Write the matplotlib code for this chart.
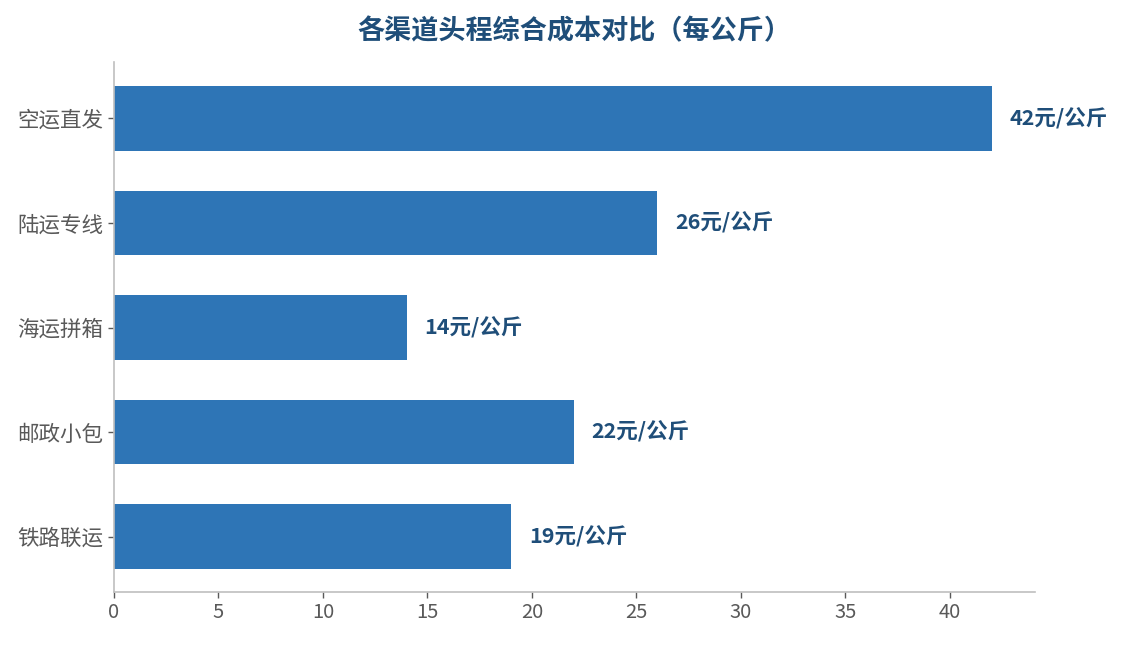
import matplotlib
matplotlib.use("Agg")
import matplotlib.pyplot as plt

plt.rcParams['font.family'] = ['Noto Sans CJK SC', 'DejaVu Sans']

channels = ['空运直发', '陆运专线', '海运拼箱', '邮政小包', '铁路联运']
costs = [42, 26, 14, 22, 19]
x_ticks = [0, 5, 10, 15, 20, 25, 30, 35, 40]

bar_color = '#2E75B6'
label_color = '#1F4E79'
tick_color = '#595959'
spine_color = '#BFBFBF'

fig = plt.figure(figsize=(11.23, 6.45), dpi=100)
ax = fig.add_axes([0.1015, 0.0822, 0.82, 0.8217])

pos = list(range(len(channels)))
bars = ax.barh(pos, costs, height=0.62, color=bar_color)
ax.set_ylim(4.53, -0.54)
ax.set_xlim(0, 44.07)

for b, v in zip(bars, costs):
    ax.annotate(f'{v}元/公斤', xy=(b.get_width(), b.get_y() + b.get_height() / 2),
                xytext=(13, 0), textcoords='offset points', va='center', ha='left',
                fontsize=15.5, fontweight='bold', color=label_color)

ax.set_yticks(pos)
ax.set_yticklabels(channels, fontsize=15.5, color=tick_color)
ax.set_xticks(x_ticks)
ax.set_xticklabels([str(t) for t in x_ticks], fontsize=14.5, color=tick_color)
ax.tick_params(axis='both', color=tick_color, length=4, width=1)

for s in ['top', 'right']:
    ax.spines[s].set_visible(False)
for s in ['left', 'bottom']:
    ax.spines[s].set_color(spine_color)
    ax.spines[s].set_linewidth(1.2)

fig.text(0.5115, 0.951, '各渠道头程综合成本对比（每公斤）', ha='center', va='center',
         fontsize=19.5, fontweight='bold', color=label_color)

fig.savefig('out.png', dpi=100)
